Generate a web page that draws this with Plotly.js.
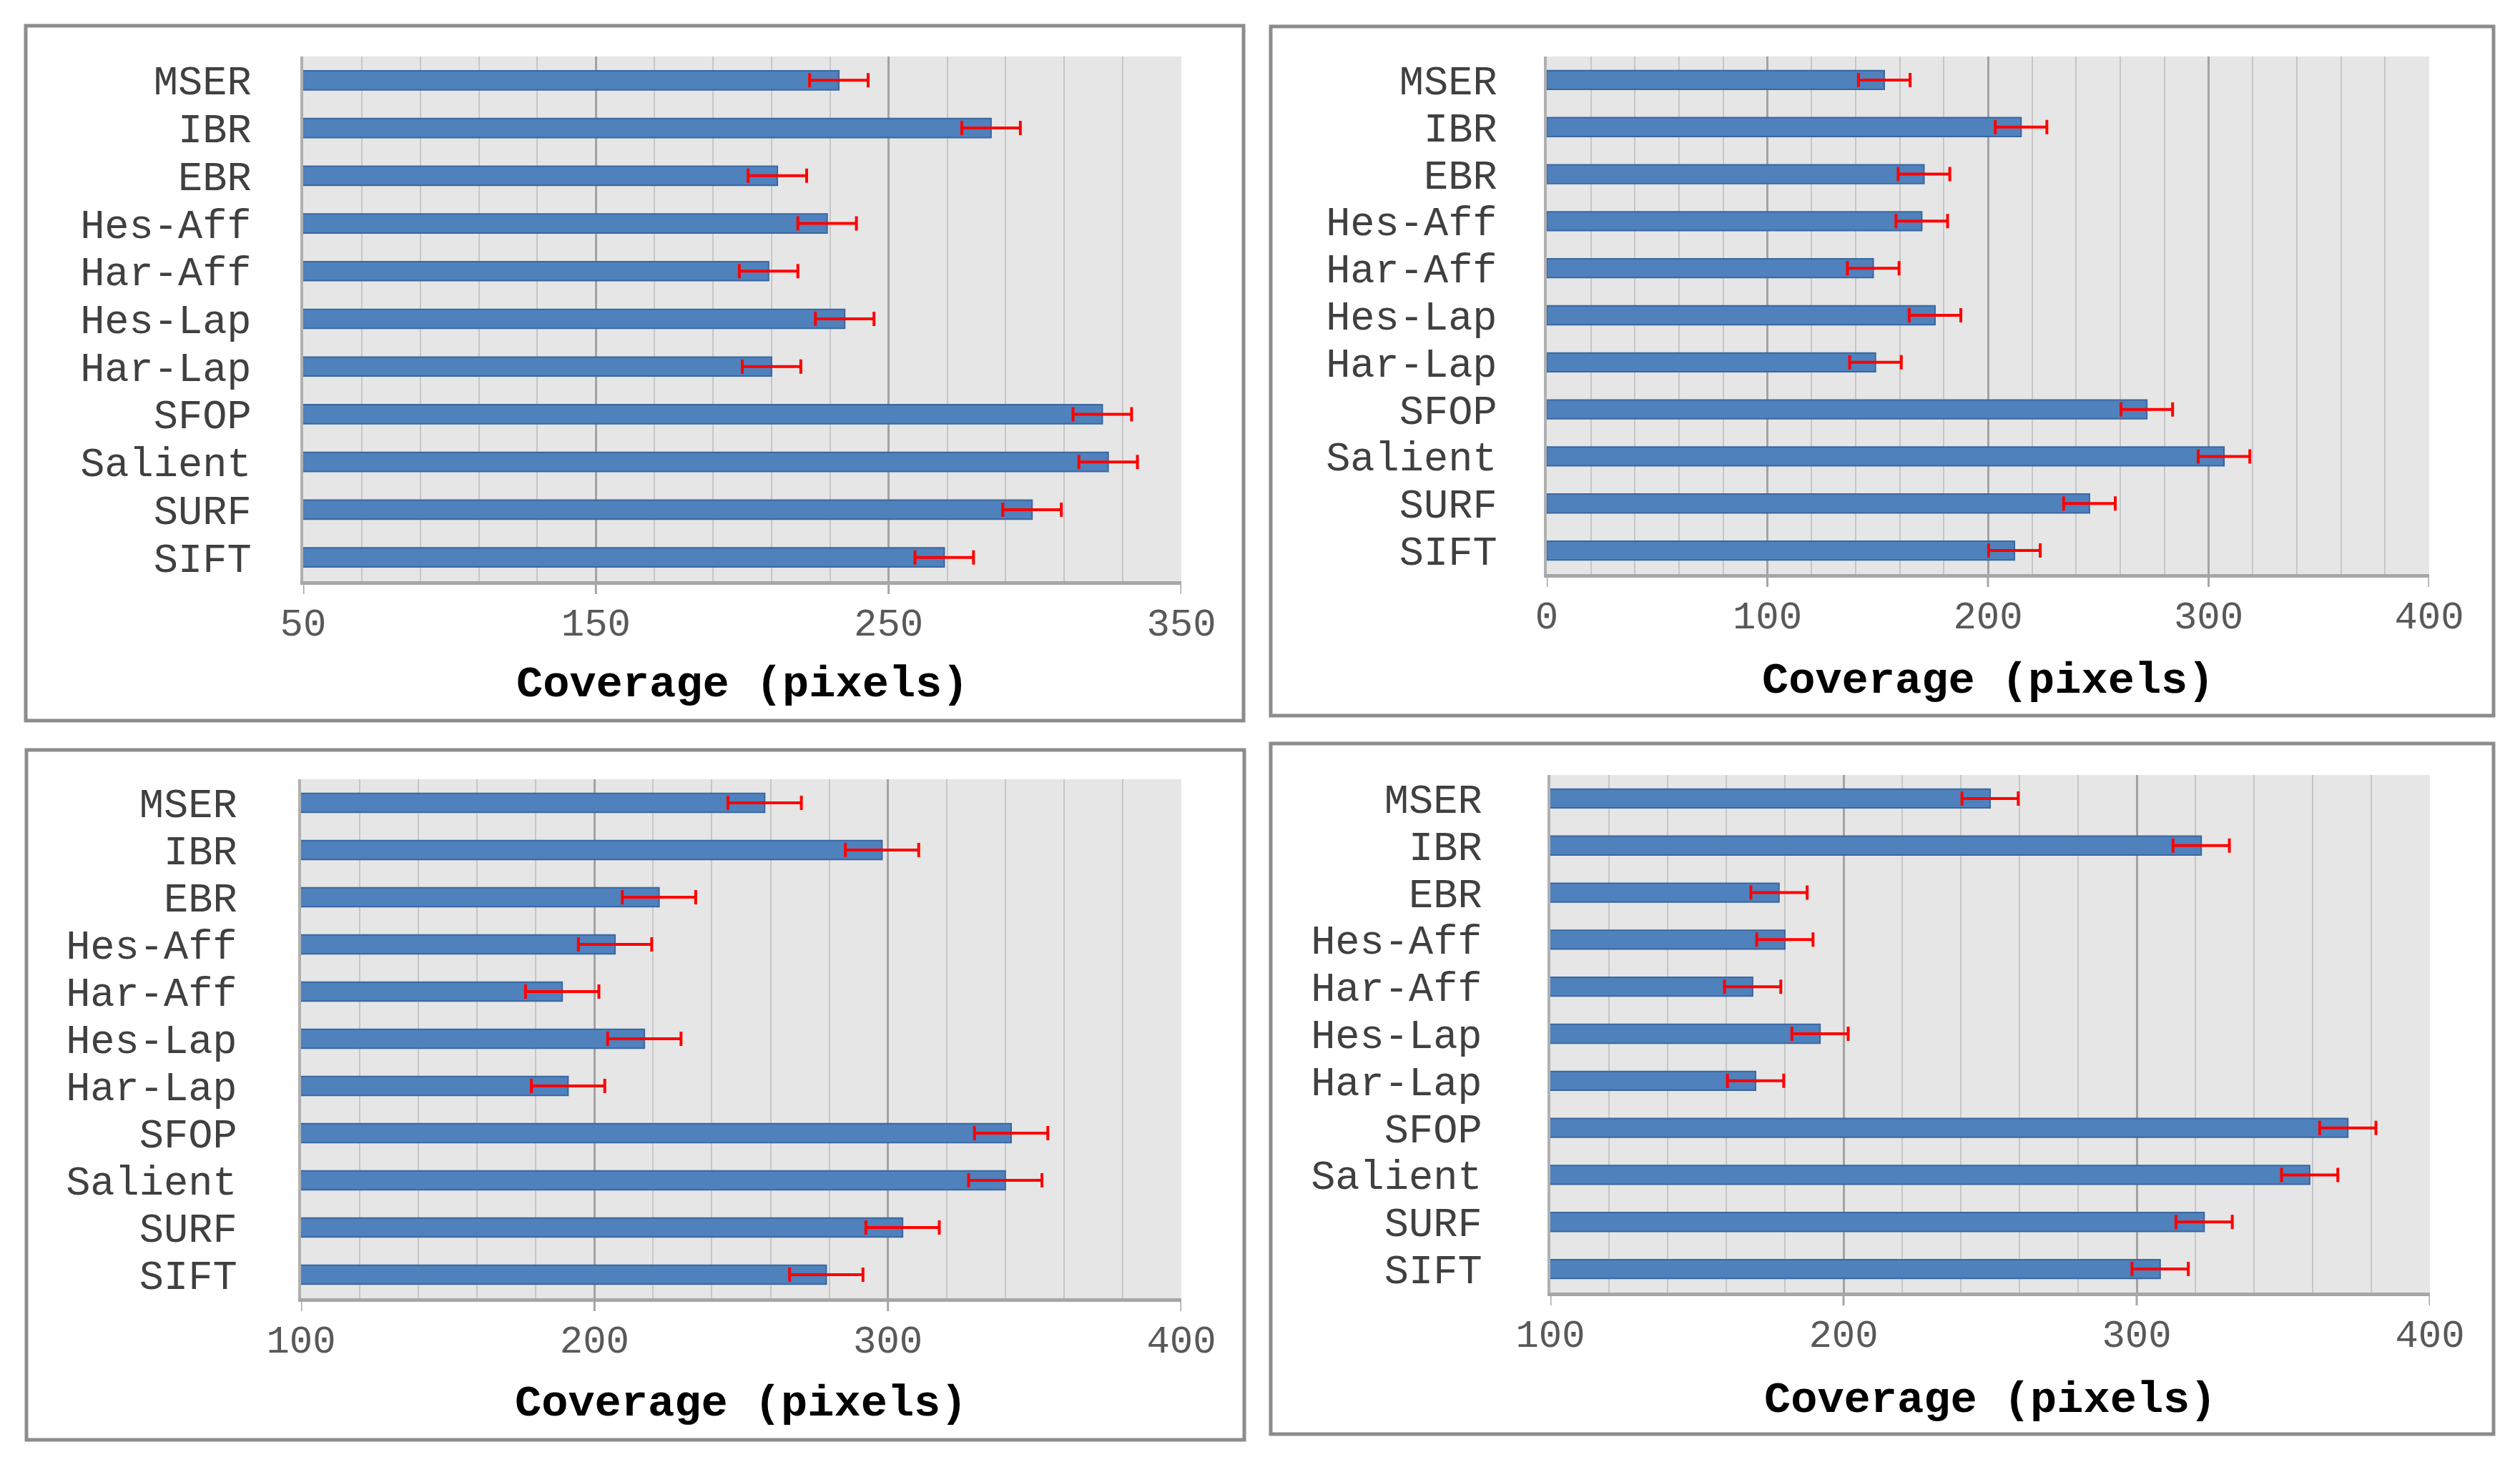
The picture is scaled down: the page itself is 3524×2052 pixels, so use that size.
<!DOCTYPE html>
<html>
<head>
<meta charset="utf-8">
<script src="https://cdn.plot.ly/plotly-3.0.1.min.js"></script>
<style>
html,body{margin:0;padding:0;background:#fff;}
#chart{width:3524px;height:2052px;}
</style>
</head>
<body>
<div id="chart"></div>
<script>
// ---- Data ----
const categories = ["MSER","IBR","EBR","Hes-Aff","Har-Aff","Hes-Lap","Har-Lap","SFOP","Salient","SURF","SIFT"];

const panel1Values = [233, 285, 212, 229, 209, 235, 210, 323, 325, 299, 269];
const panel1Errors = [10, 10, 10, 10, 10, 10, 10, 10, 10, 10, 10];

const panel2Values = [153, 215, 171, 170, 148, 176, 149, 272, 307, 246, 212];
const panel2Errors = [11.7, 11.7, 11.7, 11.7, 11.7, 11.7, 11.7, 11.7, 11.7, 11.7, 11.7];

const panel3Values = [258, 298, 222, 207, 189, 217, 191, 342, 340, 305, 279];
const panel3Errors = [12.5, 12.5, 12.5, 12.5, 12.5, 12.5, 12.5, 12.5, 12.5, 12.5, 12.5];

const panel4Values = [250, 322, 178, 180, 169, 192, 170, 372, 359, 323, 308];
const panel4Errors = [9.6, 9.6, 9.6, 9.6, 9.6, 9.6, 9.6, 9.6, 9.6, 9.6, 9.6];

const panel1Ticks = [50, 150, 250, 350];
const panel2Ticks = [0, 100, 200, 300, 400];
const panel3Ticks = [100, 200, 300, 400];
const panel4Ticks = [100, 200, 300, 400];

const axisTitle = "Coverage (pixels)";

// ---- Layout helpers ----
const W = 3524, H = 2052;
const FONT = '"Courier New", "Liberation Mono", monospace';

const panels = [
  {vals: panel1Values, errs: panel1Errors, ticks: panel1Ticks, plot: [424, 79, 1652, 813], box: [36, 36, 1739, 1008], title: [1038, 958], ystand: 57},
  {vals: panel2Values, errs: panel2Errors, ticks: panel2Ticks, plot: [2163, 79, 3397, 803], box: [1777, 37, 3487, 1001], title: [2780, 952], ystand: 54},
  {vals: panel3Values, errs: panel3Errors, ticks: panel3Ticks, plot: [421, 1090, 1652, 1816], box: [37, 1049, 1740, 2014], title: [1036, 1963], ystand: 74},
  {vals: panel4Values, errs: panel4Errors, ticks: panel4Ticks, plot: [2168, 1084, 3398, 1808], box: [1777, 1040, 3487, 2006], title: [2783, 1958], ystand: 80}
];

const traces = [];
const layout = {
  width: W, height: H,
  margin: {l: 0, r: 0, t: 0, b: 0},
  paper_bgcolor: '#ffffff',
  showlegend: false,
  shapes: [],
  annotations: []
};

panels.forEach((p, i) => {
  const n = i + 1;
  const xa = n === 1 ? 'xaxis' : 'xaxis' + n;
  const ya = n === 1 ? 'yaxis' : 'yaxis' + n;
  const xr = n === 1 ? 'x' : 'x' + n;
  const yr = n === 1 ? 'y' : 'y' + n;
  const plotH = p.plot[3] - p.plot[1];

  traces.push({
    type: 'bar',
    orientation: 'h',
    x: p.vals,
    y: categories,
    xaxis: xr, yaxis: yr,
    marker: {color: '#4F81BD', line: {color: '#3A67A0', width: 2}},
    width: 0.4,
    error_x: {type: 'data', array: p.errs, visible: true, color: '#FF0000', thickness: 4, width: 10},
    hoverinfo: 'x+y'
  });

  const t0 = p.ticks[0], t1 = p.ticks[p.ticks.length - 1];
  layout[xa] = {
    domain: [p.plot[0] / W, p.plot[2] / W],
    anchor: yr,
    range: [t0, t1],
    tickmode: 'array',
    tickvals: p.ticks,
    ticktext: p.ticks.map(String),
    ticks: '',
    showgrid: true, gridcolor: '#A3A3A3', gridwidth: 3,
    minor: {tick0: t0, dtick: 20, showgrid: true, gridcolor: '#C6C6C6', gridwidth: 2, ticks: ''},
    zeroline: false,
    showline: true, linecolor: '#A6A6A6', linewidth: 5,
    tickfont: {family: FONT, size: 54, color: '#595959'},
    ticklabelstandoff: 6,
    fixedrange: true
  };
  layout[ya] = {
    domain: [1 - p.plot[3] / H, 1 - p.plot[1] / H],
    anchor: xr,
    type: 'category',
    categoryorder: 'array',
    categoryarray: categories,
    tickmode: 'array',
    tickvals: categories,
    ticktext: categories,
    autorange: 'reversed',
    showgrid: false,
    zeroline: false,
    showline: true, linecolor: '#B0B0B0', linewidth: 4,
    ticks: '',
    tickfont: {family: FONT, size: 57, color: '#404040'},
    ticklabelstandoff: p.ystand,
    fixedrange: true
  };

  // plot background
  layout.shapes.push({
    type: 'rect', layer: 'below',
    xref: xr + ' domain', yref: yr + ' domain',
    x0: 0, x1: 1, y0: 0, y1: 1,
    fillcolor: '#E6E6E6', line: {width: 0}
  });
  // major tick marks below the axis, at the tick values
  p.ticks.forEach(t => {
    layout.shapes.push({
      type: 'line', layer: 'above',
      xref: xr, yref: yr + ' domain',
      x0: t, x1: t, y0: 0, y1: -18 / plotH,
      line: {color: '#A6A6A6', width: 3}
    });
  });
  // panel frame
  layout.shapes.push({
    type: 'rect', layer: 'above',
    xref: 'paper', yref: 'paper',
    x0: p.box[0] / W, x1: p.box[2] / W,
    y0: 1 - p.box[3] / H, y1: 1 - p.box[1] / H,
    line: {color: '#8C8C8C', width: 5}
  });
  layout.annotations.push({
    xref: 'paper', yref: 'paper',
    x: p.title[0] / W, y: 1 - p.title[1] / H,
    xanchor: 'center', yanchor: 'middle',
    text: '<b>' + axisTitle + '</b>',
    showarrow: false,
    font: {family: FONT, size: 62, color: '#000000'}
  });
});

Plotly.newPlot('chart', traces, layout, {staticPlot: true, displayModeBar: false});
</script>
</body>
</html>
